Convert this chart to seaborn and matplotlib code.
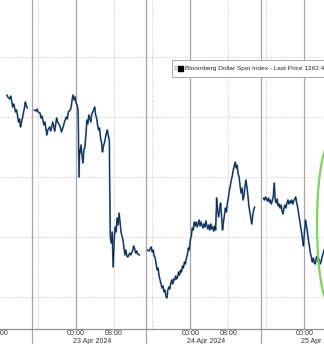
import numpy as np
import pandas as pd
import matplotlib
matplotlib.use("Agg")
import matplotlib.pyplot as plt
import matplotlib.dates as mdates
import matplotlib.transforms as mtrans
from matplotlib.patches import Ellipse, Patch, Rectangle
import seaborn as sns

# ---------------- data (hours relative to 23 Apr 2024 00:00, index level) -------------
BASE = pd.Timestamp("2024-04-23 00:00")

seg1_hours = [-14.56, -14.36, -13.95, -13.74, -13.33, -13.13, -12.72, -12.51, -12.10, -11.90,
              -11.69, -11.49, -11.28, -11.08, -10.87, -10.67, -10.46, -10.26]
seg1_price = [1270.10, 1270.00, 1269.90, 1270.05, 1269.50, 1269.65, 1269.25, 1269.35, 1268.75, 1268.90,
              1268.50, 1268.75, 1268.95, 1269.20, 1269.45, 1269.75, 1269.55, 1269.45]

seg2_hours = [-8.82, -8.41, -8.21, -8.00, -7.59, -7.38, -7.18, -6.77, -6.56, -6.15,
              -5.95, -5.54, -5.33, -4.92, -4.72, -4.51, -4.10, -3.90, -3.49, -3.28,
              -3.08, -2.67, -2.46, -2.05, -1.85, -1.64, -1.23, -1.03, -0.82, -0.62,
              -0.41, -0.21, 0.00, 0.21, 0.41, 0.62, 0.72, 0.82, 1.03, 1.23,
              1.44, 1.64, 1.85, 2.05, 2.26, 2.46, 2.67, 2.87, 3.08, 3.28,
              3.69, 3.90, 4.10, 4.31, 4.51, 4.72, 4.92, 5.13, 5.33, 5.54,
              5.74, 5.95, 6.15, 6.36, 6.56, 6.77, 6.97, 7.08, 7.18, 7.38,
              7.59, 7.79, 8.00, 8.21, 8.41, 8.62, 8.82, 9.03, 9.23, 9.44,
              9.64, 9.85, 10.05, 10.26, 10.46, 10.67, 10.87, 11.28, 11.49, 11.90,
              12.10, 12.31, 12.51, 12.72, 12.92, 13.33]
seg2_price = [1269.35, 1269.30, 1269.40, 1269.25, 1269.20, 1268.95, 1269.05, 1268.60, 1268.75, 1268.10,
              1268.35, 1268.50, 1268.30, 1268.75, 1268.55, 1268.30, 1268.95, 1268.75, 1268.60, 1268.45,
              1268.25, 1268.55, 1268.75, 1269.00, 1268.90, 1269.25, 1269.35, 1269.50, 1269.90, 1270.10,
              1269.85, 1270.00, 1269.70, 1269.60, 1269.35, 1266.00, 1267.35, 1267.20, 1267.60, 1267.10,
              1266.70, 1267.35, 1267.50, 1268.10, 1268.85, 1268.65, 1269.10, 1268.95, 1268.75, 1269.15,
              1269.35, 1269.50, 1269.10, 1268.95, 1268.60, 1268.35, 1268.45, 1267.95, 1267.75, 1267.25,
              1267.55, 1267.70, 1267.95, 1268.20, 1268.35, 1268.05, 1267.85, 1265.35, 1263.00, 1262.70,
              1263.25, 1261.50, 1262.85, 1263.50, 1263.25, 1263.95, 1263.60, 1264.20, 1263.75, 1263.25,
              1263.05, 1262.85, 1262.45, 1262.10, 1262.35, 1262.05, 1262.00, 1262.20, 1262.10, 1262.35,
              1262.55, 1262.40, 1262.20, 1262.30, 1262.15, 1262.10]

seg3_hours = [14.97, 15.38, 15.59, 15.79, 16.00, 16.21, 16.41, 16.62, 16.82, 17.03,
              17.23, 17.44, 17.64, 17.85, 18.05, 18.26, 18.46, 18.67, 18.87, 19.08,
              19.28, 19.49, 19.69, 19.90, 20.10, 20.31, 20.51, 20.72, 20.92, 21.13,
              21.33, 21.54, 21.74, 21.95, 22.15, 22.36, 22.56, 22.77, 22.97, 23.18,
              23.38, 23.59, 23.79, 24.00, 24.21, 24.41, 24.62, 24.82, 25.03, 25.23,
              25.44, 25.64, 25.85, 26.05, 26.26, 26.46, 26.67, 26.87, 27.08, 27.28,
              27.49, 27.69, 27.90, 28.10, 28.31, 28.51, 28.72, 28.92, 29.13, 29.33,
              29.54, 29.74, 29.95, 30.15, 30.36, 30.56, 30.77, 30.97, 31.18, 31.38,
              31.59, 31.79, 32.00, 32.21, 32.41, 32.62, 32.82, 33.03, 33.23, 33.44,
              33.64, 33.85, 34.05, 34.26, 34.46, 34.67, 34.87, 35.08, 35.28, 35.49,
              35.69, 35.90, 36.10, 36.31, 36.51, 36.72, 36.92, 37.13, 37.33, 37.54]
seg3_price = [1262.35, 1262.30, 1262.45, 1262.50, 1262.25, 1262.35, 1262.05, 1261.95, 1261.65, 1261.35,
              1261.45, 1261.05, 1260.85, 1260.65, 1260.45, 1260.55, 1260.25, 1260.35, 1260.05, 1259.95,
              1260.35, 1260.50, 1260.40, 1260.70, 1260.85, 1260.65, 1260.90, 1260.85, 1261.05, 1260.90,
              1261.00, 1261.25, 1261.10, 1261.35, 1261.25, 1261.55, 1261.45, 1261.75, 1261.65, 1261.95,
              1262.10, 1262.45, 1262.35, 1262.85, 1263.05, 1263.45, 1263.35, 1263.75, 1263.55, 1263.75,
              1263.50, 1263.65, 1263.85, 1263.55, 1263.75, 1263.60, 1263.45, 1263.65, 1263.50, 1263.80,
              1263.55, 1263.40, 1263.60, 1263.35, 1263.65, 1263.40, 1263.50, 1263.30, 1263.55, 1263.35,
              1264.95, 1264.35, 1264.00, 1264.35, 1264.70, 1264.10, 1263.35, 1263.75, 1264.10, 1264.45,
              1264.25, 1264.70, 1264.95, 1265.35, 1265.55, 1265.85, 1266.05, 1266.35, 1266.55, 1266.75,
              1266.45, 1266.60, 1266.15, 1266.00, 1265.55, 1265.20, 1265.45, 1264.85, 1265.05, 1265.55,
              1265.85, 1265.50, 1265.10, 1264.55, 1264.25, 1263.95, 1263.65, 1264.10, 1264.35, 1264.50]

seg4_hours = [39.38, 39.59, 39.79, 40.00, 40.21, 40.41, 40.62, 40.82, 41.03, 41.23,
              41.44, 41.64, 41.85, 42.05, 42.26, 42.46, 42.67, 42.87, 43.08, 43.28,
              43.49, 43.69, 43.90, 44.10, 44.31, 44.51, 44.72, 44.92, 45.13, 45.33,
              45.54, 45.74, 45.95, 46.15, 46.36, 46.56, 46.77, 46.97, 47.18, 47.38,
              47.59, 47.79, 48.00, 48.21, 48.41, 48.62, 48.82, 49.03, 49.23, 49.44,
              49.64, 49.85, 50.05, 50.26, 50.46, 50.67, 50.87, 51.08, 51.28, 51.49,
              51.69, 51.90, 52.10, 52.31]
seg4_price = [1264.95, 1264.85, 1265.00, 1264.90, 1264.80, 1264.95, 1264.75, 1264.85, 1264.65, 1264.80,
              1265.05, 1265.70, 1264.85, 1264.70, 1264.90, 1264.55, 1264.65, 1264.45, 1264.60, 1264.30,
              1264.15, 1264.45, 1264.60, 1264.45, 1264.70, 1264.85, 1264.65, 1264.80, 1264.70, 1264.85,
              1264.65, 1264.80, 1264.90, 1265.00, 1264.70, 1264.50, 1264.15, 1263.85, 1263.55, 1263.25,
              1262.85, 1262.55, 1263.25, 1263.85, 1263.55, 1263.25, 1262.85, 1262.55, 1262.20, 1262.00,
              1261.75, 1261.95, 1261.70, 1261.65, 1261.95, 1262.05, 1261.75, 1261.90, 1261.65, 1261.75,
              1262.00, 1262.15, 1262.35, 1262.40]

grid_levels = [1260, 1263, 1266, 1269, 1272]
day_labels = ["23 Apr 2024", "24 Apr 2024", "25 Apr 2024"]
day_hours = [0, 24, 48]
tick_hours = [-16, 0, 8, 24, 32, 48]          # labelled ticks (08:00 22 Apr ... 00:00 25 Apr)
dotted_hours = [-8, 8, 16, 32, 40]            # 16:00 / 08:00 gridlines
session_hours = [-9.23, 14.77, 38.77]         # session separators
series_name = "Bloomberg Dollar Spot Index - Last Price"

# ---------------- frame -------------
frames = []
for i, (h, p) in enumerate([(seg1_hours, seg1_price), (seg2_hours, seg2_price),
                            (seg3_hours, seg3_price), (seg4_hours, seg4_price)]):
    frames.append(pd.DataFrame({"time": BASE + pd.to_timedelta(h, unit="h"),
                                "price": p, "seg": i}))
df = pd.concat(frames, ignore_index=True)

def T(h):
    return BASE + pd.Timedelta(hours=h)

sns.set_theme(style="white")
plt.rcParams['font.family'] = ['Liberation Sans', 'DejaVu Sans']

W, H = 324, 344
fig = plt.figure(figsize=(W / 100, H / 100), dpi=100)
fig.patch.set_facecolor("white")
ax = fig.add_axes([0, 15 / H, 1, 329 / H])
ax.set_facecolor("white")

GRID = "#c2c2c2"
SOLID = "#a6a6a6"
# grid
for v in grid_levels:
    ax.axhline(v, color=GRID, lw=0.7, ls=(0, (1, 1.6)), zorder=1)
for h in dotted_hours:
    ax.axvline(T(h), color=GRID, lw=0.7, ls=(0, (1, 1.6)), zorder=1)
for h in day_hours:
    ax.axvline(T(h), color=SOLID, lw=0.9, zorder=1)
for h in session_hours:
    ax.axvline(T(h), ymin=-15 / 329, ymax=1, color=SOLID, lw=0.9, zorder=1, clip_on=False)

# series
sns.lineplot(data=df, x="time", y="price", units="seg", estimator=None, ax=ax,
             color="#4a7dbd", lw=1.3, zorder=3, legend=False)
sns.lineplot(data=df, x="time", y="price", units="seg", estimator=None, ax=ax,
             color="#111a26", lw=0.55, zorder=4, legend=False)

ax.set_xlim(T(-14.36), T(52.10))
ax.set_ylim(1258.40, 1274.85)
ax.set_xlabel("")
ax.set_ylabel("")
ax.set_yticks([])

ax.set_xticks([T(h) for h in tick_hours])
ax.xaxis.set_major_formatter(mdates.DateFormatter("%H:%M"))
ax.xaxis.set_minor_locator(mdates.HourLocator(byhour=[0, 4, 8, 12, 16, 20]))
ax.tick_params(axis="x", which="major", labelsize=5.1, pad=1.0, length=0, colors="#333333")
ax.tick_params(axis="x", which="minor", direction="in", length=2, width=0.6, color="#888888")
for s in ["left", "right", "top"]:
    ax.spines[s].set_visible(False)
ax.spines["bottom"].set_color("#909090")
ax.spines["bottom"].set_linewidth(0.9)

trans = mtrans.blended_transform_factory(ax.transData, ax.transAxes)
for h, lab in zip(day_hours, day_labels):
    ax.text(T(h - 0.7), -0.037, lab, transform=trans, ha="left", va="center",
            fontsize=5.0, color="#333333", clip_on=False)

# legend box (frame drawn in pixels inside the axes, below the legend)
frame = Rectangle((172, H - 77), 170, 17, transform=None, facecolor="white",
                  edgecolor="#a8a8a8", lw=0.7, zorder=5, clip_on=False)
ax.add_patch(frame)
leg = ax.legend(handles=[Patch(facecolor="black", edgecolor="black")],
                labels=[f"{series_name} {seg4_price[-1]:.1f}"],
                loc="center left", bbox_to_anchor=(177 / W, (329 - 68.5) / 329),
                fontsize=4.65, frameon=False, handlelength=0.8, handleheight=0.8,
                borderpad=0.2, handletextpad=0.3, borderaxespad=0)
leg.set_zorder(7)
ax.text(173.5 / W, (329 - 68.5) / 329, "≡", transform=ax.transAxes, fontsize=4,
        color="#8a8a8a", ha="left", va="center", zorder=8)

# green highlight ellipse (display coords -> figure pixels)
ell = Ellipse((330, H - 224), width=26, height=160, transform=None,
              fill=False, edgecolor="#7dd65a", lw=1.6, zorder=8)
fig.add_artist(ell)

fig.savefig("out.png", dpi=100, facecolor="white")
